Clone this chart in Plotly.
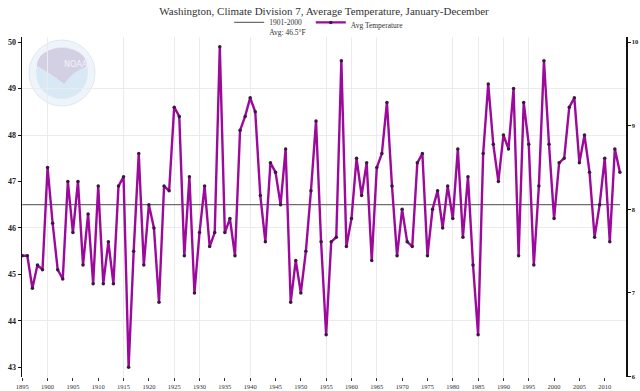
import plotly.graph_objects as go

# ---------------- data ----------------
years = list(range(1895, 2014))
avg_temp_f = [
    45.4, 45.4, 44.7, 45.2, 45.1, 47.3, 46.1, 45.1, 44.9, 47.0,   # 1895-1904
    45.9, 47.0, 45.2, 46.3, 44.8, 46.9, 44.8, 45.7, 44.8, 46.9,   # 1905-1914
    47.1, 43.0, 45.5, 47.6, 45.2, 46.5, 46.0, 44.4, 46.9, 46.8,   # 1915-1924
    48.6, 48.4, 45.4, 47.1, 44.6, 45.9, 46.9, 45.6, 45.9, 49.9,   # 1925-1934
    45.9, 46.2, 45.4, 48.1, 48.4, 48.8, 48.5, 46.7, 45.7, 47.4,   # 1935-1944
    47.2, 46.5, 47.7, 44.4, 45.3, 44.6, 45.5, 46.8, 48.3, 45.7,   # 1945-1954
    43.7, 45.7, 45.8, 49.6, 45.6, 46.2, 47.5, 46.7, 47.4, 45.3,   # 1955-1964
    47.3, 47.6, 48.7, 46.9, 45.4, 46.4, 45.7, 45.6, 47.4, 47.6,   # 1965-1974
    45.4, 46.4, 46.8, 46.0, 46.9, 46.2, 47.7, 45.8, 47.1, 45.2,   # 1975-1984
    43.7, 47.6, 49.1, 47.8, 47.0, 48.0, 47.7, 49.0, 45.4, 48.7,   # 1985-1994
    47.8, 45.2, 46.9, 49.6, 47.8, 46.2, 47.4, 47.5, 48.6, 48.8,   # 1995-2004
    47.4, 48.0, 47.2, 45.8, 46.5, 47.5, 45.7, 47.7, 47.2,         # 2005-2013
]
base_avg_f = 46.5
base_label = "1901-2000<br>Avg: 46.5°F"
series_label = "Avg Temperature"
title_text = "Washington, Climate Division 7, Average Temperature, January-December"

x_tick_years = list(range(1895, 2011, 5))
x_grid_years = [1900, 1915, 1925, 1930, 1940, 1955, 1960, 1965, 1980, 1985, 1990, 1995]
y_ticks_f = [43, 44, 45, 46, 47, 48, 49, 50]
y_grid_f = [44, 46, 48, 49]
y_ticks_c = [6, 7, 8, 9, 10]

# ---------------- layout constants ----------------
W, H = 640, 391
L, R, T, B = 22, 14, 37, 14
xr = [1894.95, 2014.2]
yr_f = [42.79, 50.11]
yr_c = [(v - 32) * 5 / 9 for v in yr_f]
SERIF = "Liberation Serif, Times New Roman, serif"

def pxx(p):
    return (p - L) / (W - L - R)

def pxy(p):
    return 1 - (p - T) / (H - T - B)

fig = go.Figure()

# invisible helper traces so the overlay axes (grid / °C scale) are drawn
fig.add_trace(go.Scatter(
    x=years, y=avg_temp_f, xaxis="x2", yaxis="y3", mode="lines",
    line=dict(color="rgba(0,0,0,0)", width=0), showlegend=False, hoverinfo="skip",
))
fig.add_trace(go.Scatter(
    x=years, y=[(v - 32) * 5 / 9 for v in avg_temp_f], yaxis="y2", mode="lines",
    line=dict(color="rgba(0,0,0,0)", width=0), showlegend=False, hoverinfo="skip",
))

fig.add_trace(go.Scatter(
    x=years, y=[base_avg_f] * len(years), mode="lines",
    name=base_label, line=dict(color="#6e6e6e", width=1.2),
    hoverinfo="skip",
))
fig.add_trace(go.Scatter(
    x=years, y=avg_temp_f, mode="lines+markers",
    name=series_label,
    line=dict(color="#9c0a9c", width=2.4),
    marker=dict(size=3.5, color="#3a1a3a", line=dict(width=0)),
))

# NOAA watermark (decorative)
logo_shapes = [
    dict(type="circle", xref="paper", yref="paper",
         x0=pxx(29), x1=pxx(95), y0=pxy(106), y1=pxy(40),
         fillcolor="#eef4fa", line=dict(color="#dfe8f2", width=1), layer="below"),
    dict(type="circle", xref="paper", yref="paper",
         x0=pxx(36), x1=pxx(88), y0=pxy(99), y1=pxy(47),
         fillcolor="#d8e8f5", line=dict(width=0), layer="below"),
    dict(type="path", xref="paper", yref="paper",
         path=(f"M {pxx(37)},{pxy(66)} "
               f"C {pxx(37)},{pxy(42)} {pxx(87)},{pxy(42)} {pxx(87)},{pxy(66)} "
               f"Q {pxx(72)},{pxy(72)} {pxx(64)},{pxy(84)} "
               f"Q {pxx(52)},{pxy(74)} {pxx(37)},{pxy(66)} Z"),
         fillcolor="#d3d0e4", line=dict(width=0), layer="below"),
]

fig.update_layout(
    width=W, height=H,
    margin=dict(l=L, r=R, t=T, b=B, autoexpand=False),
    paper_bgcolor="white", plot_bgcolor="white",
    title=dict(text=title_text, x=0.5, xref="paper", xanchor="center",
               y=1 - 11 / H, yanchor="middle",
               font=dict(family=SERIF, size=11, color="#333333")),
    showlegend=True,
    legend=dict(orientation="h", x=0.492, xanchor="center", y=pxy(11), yanchor="top",
                valign="top",
                font=dict(family=SERIF, size=7.5, color="#333333"),
                bgcolor="rgba(0,0,0,0)", itemwidth=30, tracegroupgap=0),
    shapes=logo_shapes,
    annotations=[dict(text="NOAA", xref="paper", yref="paper", x=pxx(62), y=pxy(58),
                      showarrow=False, font=dict(family="DejaVu Sans", size=8, color="#f4f2fa"))],
    xaxis=dict(range=xr, tickmode="array", tickvals=x_tick_years,
               ticktext=[str(v) for v in x_tick_years],
               showgrid=False, zeroline=False, showline=False,
               ticks="outside", ticklen=3, tickcolor="#333333",
               tickfont=dict(family=SERIF, size=6.5, color="#333333")),
    xaxis2=dict(range=xr, overlaying="x", anchor="y3", tickmode="array",
                tickvals=x_grid_years, showgrid=True, gridcolor="#ebebeb", gridwidth=1,
                showticklabels=False, ticks="", zeroline=False, showline=False),
    yaxis=dict(range=yr_f, tickmode="array", tickvals=y_ticks_f,
               showgrid=False, zeroline=False, showline=True,
               linecolor="#111111", linewidth=1.5,
               ticks="outside", ticklen=3, tickcolor="#111111",
               tickfont=dict(family=SERIF, size=8, color="#222222", weight="bold")),
    yaxis3=dict(range=yr_f, overlaying="y", anchor="x2", tickmode="array",
                tickvals=y_grid_f, showgrid=True, gridcolor="#ebebeb", gridwidth=1,
                showticklabels=False, ticks="", zeroline=False, showline=False),
    yaxis2=dict(range=yr_c, overlaying="y", side="right", anchor="x",
                tickmode="array", tickvals=y_ticks_c,
                showgrid=False, zeroline=False, showline=True,
                linecolor="#111111", linewidth=1.5,
                ticks="outside", ticklen=3, tickcolor="#111111",
                tickfont=dict(family=SERIF, size=6.5, color="#222222", weight="bold")),
)

fig.write_html(
    "out.html",
    config={"staticPlot": True, "displayModeBar": False},
    post_script="document.body.style.margin='0';document.body.style.padding='0';"
                "document.body.style.overflow='hidden';",
)
